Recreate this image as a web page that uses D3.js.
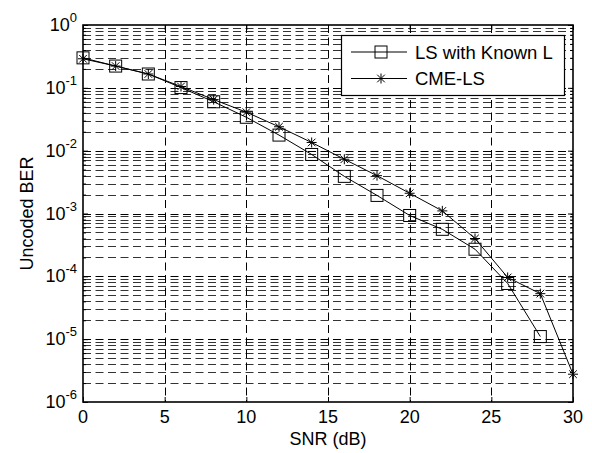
<!DOCTYPE html>
<html><head><meta charset="utf-8">
<script src="https://cdn.jsdelivr.net/npm/d3@7"></script>
<style>
html,body{margin:0;padding:0;background:#fff;}
svg text{font-family:"Liberation Sans",Arial,sans-serif;fill:#000;}
</style></head>
<body>
<svg id="chart" width="592" height="453"></svg>
<script>
const snr = [0,2,4,6,8,10,12,14,16,18,20,22,24,26,28,30];
const lsKnownL = [0.30,0.222,0.166,0.101,0.060,0.034,0.0177,0.0087,0.0039,0.00194,0.00093,0.00056,0.00027,7.7e-5,1.1e-5];
const cmeLS = [0.29,0.222,0.166,0.105,0.065,0.041,0.024,0.0135,0.0073,0.0040,0.0021,0.0011,0.0004,9.6e-5,5.3e-5,2.77e-6];
const xTicks = [0,5,10,15,20,25,30];
const yExponents = [0,-1,-2,-3,-4,-5,-6];
const seriesNames = ["LS with Known L","CME-LS"];

const svg = d3.select("#chart");
const L = 83, R = 573, T = 25, B = 402;
const x = d3.scaleLinear().domain([0,30]).range([L,R]);
const y = d3.scaleLog().domain([1e-6,1]).range([B,T]);
const dash = "8,4.5";

// grid
const g = svg.append("g");
const minor = [];
for (let e=-6;e<0;e++) for (let m=2;m<=9;m++) minor.push(m*Math.pow(10,e));
g.selectAll(".ym").data(minor).join("line")
  .attr("x1",L).attr("x2",R).attr("y1",d=>Math.round(y(d))+0.5).attr("y2",d=>Math.round(y(d))+0.5)
  .attr("stroke","#333").attr("stroke-dasharray",dash).attr("stroke-width",1);
g.selectAll(".yM").data(yExponents.slice(1,-1)).join("line")
  .attr("x1",L).attr("x2",R).attr("y1",d=>Math.round(y(Math.pow(10,d)))+0.5).attr("y2",d=>Math.round(y(Math.pow(10,d)))+0.5)
  .attr("stroke","#000").attr("stroke-dasharray",dash).attr("stroke-width",1);
g.selectAll(".xM").data(xTicks.slice(1,-1)).join("line")
  .attr("y1",T).attr("y2",B).attr("x1",d=>Math.round(x(d))+0.5).attr("x2",d=>Math.round(x(d))+0.5)
  .attr("stroke","#000").attr("stroke-dasharray",dash).attr("stroke-width",1);

// axes via d3
const xAxisB = d3.axisBottom(x).tickValues(xTicks).tickSize(-5).tickFormat("");
const xAxisT = d3.axisTop(x).tickValues(xTicks).tickSize(-5).tickFormat("");
const yMajorVals = yExponents.map(e=>Math.pow(10,e));
const yAxisL = d3.axisLeft(y).tickValues(yMajorVals).tickSize(-5).tickFormat("");
const yAxisR = d3.axisRight(y).tickValues(yMajorVals).tickSize(-5).tickFormat("");
const yAxisLm = d3.axisLeft(y).tickValues(minor).tickSize(-3).tickFormat("");
const yAxisRm = d3.axisRight(y).tickValues(minor).tickSize(-3).tickFormat("");
function styleAx(sel){ sel.select(".domain").remove(); sel.selectAll("line").attr("stroke","#000"); }
svg.append("g").attr("transform",`translate(0,${B})`).call(xAxisB).call(styleAx);
svg.append("g").attr("transform",`translate(0,${T})`).call(xAxisT).call(styleAx);
svg.append("g").attr("transform",`translate(${L},0)`).call(yAxisL).call(styleAx);
svg.append("g").attr("transform",`translate(${R},0)`).call(yAxisR).call(styleAx);
svg.append("g").attr("transform",`translate(${L},0)`).call(yAxisLm).call(styleAx);
svg.append("g").attr("transform",`translate(${R},0)`).call(yAxisRm).call(styleAx);

// frame
svg.append("rect").attr("x",L).attr("y",T).attr("width",R-L).attr("height",B-T)
  .attr("fill","none").attr("stroke","#000").attr("stroke-width",1.6);

// tick labels
svg.selectAll(".xl").data(xTicks).join("text")
  .attr("x",d=>x(d)).attr("y",B+21).attr("text-anchor","middle").attr("font-size",18).text(d=>d);
const yl = svg.selectAll(".yl").data(yExponents).join("text")
  .attr("x",77).attr("y",d=>y(Math.pow(10,d))+6).attr("text-anchor","end").attr("font-size",18);
yl.append("tspan").text("10");
yl.append("tspan").attr("dy",-9).attr("font-size",13).text(d=>d===0?"0":"-"+Math.abs(d));

// axis titles
svg.append("text").attr("x",(L+R)/2).attr("y",445).attr("text-anchor","middle").attr("font-size",18).text("SNR (dB)");
svg.append("text").attr("transform",`translate(33,${(T+B)/2}) rotate(-90)`).attr("text-anchor","middle").attr("font-size",18).text("Uncoded BER");

// series
const line = d3.line().x(d=>x(d[0])).y(d=>y(d[1]));
const lsData = lsKnownL.map((v,i)=>[snr[i],v]);
const cmeData = cmeLS.map((v,i)=>[snr[i],v]);
svg.append("path").datum(lsData).attr("d",line).attr("fill","none").attr("stroke","#000").attr("stroke-width",1);
svg.append("path").datum(cmeData).attr("d",line).attr("fill","none").attr("stroke","#000").attr("stroke-width",1);

function square(sel,cx,cy){
  sel.append("rect").attr("x",cx-6).attr("y",cy-6).attr("width",12).attr("height",12)
    .attr("fill","none").attr("stroke","#000").attr("stroke-width",1);
}
function star(sel,cx,cy){
  const s=5, d=3.8;
  const p = `M${cx},${cy-s}L${cx},${cy+s}M${cx-s},${cy}L${cx+s},${cy}M${cx-d},${cy-d}L${cx+d},${cy+d}M${cx-d},${cy+d}L${cx+d},${cy-d}`;
  sel.append("path").attr("d",p).attr("stroke","#000").attr("stroke-width",1).attr("fill","none");
}
const mg = svg.append("g");
lsData.forEach(d=>square(mg,x(d[0]),y(d[1])));
cmeData.forEach(d=>star(mg,x(d[0]),y(d[1])));

// legend
const lg = svg.append("g");
lg.append("rect").attr("x",341.5).attr("y",35.5).attr("width",223).attr("height",60)
  .attr("fill","#fff").attr("stroke","#000").attr("stroke-width",1.2);
const rows=[52,78.5];
rows.forEach((ry,i)=>{
  lg.append("line").attr("x1",351).attr("x2",407).attr("y1",ry).attr("y2",ry).attr("stroke","#000").attr("stroke-width",1);
  if(i===0) square(lg,381,ry); else star(lg,381,ry);
  lg.append("text").attr("x",415).attr("y",ry+6.5).attr("font-size",18.5).text(seriesNames[i]);
});
</script>
</body></html>
